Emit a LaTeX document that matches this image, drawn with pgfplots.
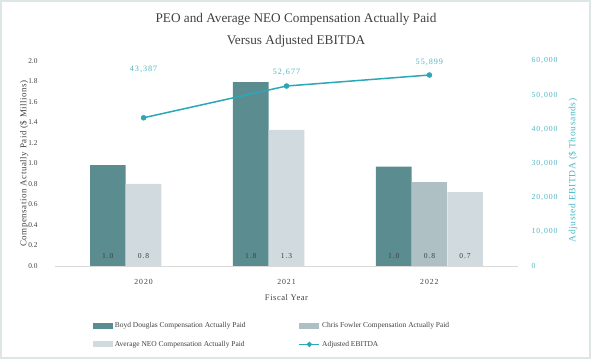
\documentclass[border=0pt]{standalone}
\usepackage{pgfplots}
\usepackage{pgfplotstable}
\pgfplotsset{compat=1.18}
\usepackage{fontspec}
\setmainfont{Liberation Serif}
\newfontfamily\spaced[LetterSpace=12]{Liberation Serif}
\newfontfamily\spacedb[LetterSpace=6]{Liberation Serif}
\definecolor{cBoyd}{HTML}{5B8D90}
\definecolor{cChris}{HTML}{AFC0C4}
\definecolor{cAvg}{HTML}{D1DADF}
\definecolor{cLine}{HTML}{2BA8B8}
\definecolor{cTeal}{HTML}{4DB6C4}
\definecolor{cText}{HTML}{404040}
\definecolor{cFrame}{HTML}{DDE5E7}
\definecolor{cBase}{HTML}{D9D9D9}

\pgfplotstableread{
x y
-0.25 0.985
0.75 1.795
1.75 0.97
}\boyd
\pgfplotstableread{
x y
2.0 0.82
}\chris
\pgfplotstableread{
x y
0.0 0.80
1.0 1.327
2.25 0.72
}\avg
\pgfplotstableread{
x y dy
0 43387 44
1 52677 10
2 55899 9
}\ebitda

\pgfplotsset{barlab/.style={draw=none, mark=none, forget plot,
  nodes near coords={\pgfmathprintnumber[fixed,fixed zerofill,precision=1,assume math mode=true]{\pgfplotspointmeta}},
  point meta=explicit,
  nodes near coords style={font=\spaced\fontsize{7.6}{9}\selectfont, text=cText, anchor=center, inner sep=0pt, yshift=10bp}},
  barleg/.style={legend image code/.code={\fill[##1] (0bp,-3bp) rectangle (20bp,3bp);}},
  lineleg/.style={legend image code/.code={\draw[mark repeat=2, mark phase=2, ##1] plot coordinates {(0bp,0bp) (10bp,0bp) (20bp,0bp)};}}}

\begin{document}
\begin{tikzpicture}
\useasboundingbox (0bp,0bp) rectangle (591bp,359bp);
\draw[cFrame, line width=2bp] (1bp,1bp) rectangle (590bp,358bp);
\node[align=center, font=\fontsize{13.3}{22}\selectfont, text=cText] at (296bp,329bp) {PEO and Average NEO Compensation Actually Paid\\Versus Adjusted EBITDA};

\begin{axis}[
  at={(55bp,93bp)}, anchor=south west, scale only axis,
  width=463bp, height=205bp,
  xmin=-0.62, xmax=2.62, ymin=0, ymax=2.0,
  xtick={0,1,2}, xticklabels={2020,2021,2022},
  ytick={0,0.2,0.4,0.6,0.8,1.0,1.2,1.4,1.6,1.8,2.0},
  axis x line*=bottom, axis y line*=left,
  x axis line style={cBase, line width=1bp, -},
  y axis line style={draw=none},
  major tick length=0,
  yticklabel style={font=\fontsize{7.4}{9}\selectfont, text=cText, xshift=-14bp,
    /pgf/number format/.cd, fixed, fixed zerofill, precision=1, assume math mode=true},
  xticklabel style={font=\spaced\fontsize{7.8}{10}\selectfont, text=cText, yshift=-10bp},
  xlabel={Fiscal Year},
  xlabel style={font=\spacedb\fontsize{8.6}{10}\selectfont, text=cText, yshift=-3bp},
  ylabel={Compensation Actually Paid (\$ Millions)},
  ylabel style={font=\spacedb\fontsize{9}{10}\selectfont, text=cText, yshift=-7bp},
  legend style={at={(0.075,-0.255)}, anchor=north west, draw=none, fill=none,
    font=\fontsize{7.5}{9}\selectfont, text=cText, legend columns=2,
    row sep=8bp, /tikz/every even column/.append style={column sep=51bp},
    legend cell align=left},
]
\addplot[ybar, bar width=0.25, bar shift=0pt, fill=cBoyd, draw=none, barleg] table[x=x,y=y]{\boyd};
\addlegendentry{Boyd Douglas Compensation Actually Paid}
\addplot[ybar, bar width=0.25, bar shift=0pt, fill=cChris, draw=none, barleg] table[x=x,y=y]{\chris};
\addlegendentry{Chris Fowler Compensation Actually Paid}
\addplot[ybar, bar width=0.25, bar shift=0pt, fill=cAvg, draw=none, barleg] table[x=x,y=y]{\avg};
\addlegendentry{Average NEO Compensation Actually Paid}
\addlegendimage{cLine, line width=1.5bp, mark=*, mark size=1.8bp, lineleg}
\addlegendentry{Adjusted EBITDA}
\addplot[barlab] table[x=x, y expr=0, meta=y]{\boyd};
\addplot[barlab] table[x=x, y expr=0, meta=y]{\chris};
\addplot[barlab] table[x=x, y expr=0, meta=y]{\avg};
\end{axis}

\begin{axis}[
  at={(55bp,93bp)}, anchor=south west, scale only axis,
  width=463bp, height=205bp,
  xmin=-0.62, xmax=2.62, ymin=0, ymax=60000,
  axis y line*=right, axis x line=none,
  y axis line style={draw=none},
  major tick length=0,
  ytick={0,10000,20000,30000,40000,50000,60000},
  scaled y ticks=false,
  yticklabel style={font=\spaced\fontsize{7.8}{9}\selectfont, text=cTeal, xshift=10bp,
    /pgf/number format/.cd, fixed, 1000 sep={,}, assume math mode=true},
  ylabel={Adjusted EBITDA (\$ Thousands)},
  ylabel style={font=\spacedb\fontsize{9.6}{10}\selectfont, text=cTeal, yshift=-4bp, xshift=-7bp},
]
\addplot[cLine, line width=1.5bp, mark=*, mark size=2bp,
  nodes near coords={\pgfmathprintnumber[fixed,precision=0,1000 sep={,},assume math mode=true]{\pgfplotspointmeta}},
  point meta=explicit,
  visualization depends on={\thisrow{dy} \as \dy},
  nodes near coords style={font=\spaced\fontsize{8.2}{10}\selectfont, text=cTeal, anchor=south, inner sep=0pt, yshift=\dy bp}]
  table[x=x, y=y, meta=y]{\ebitda};
\end{axis}
\end{tikzpicture}
\end{document}
